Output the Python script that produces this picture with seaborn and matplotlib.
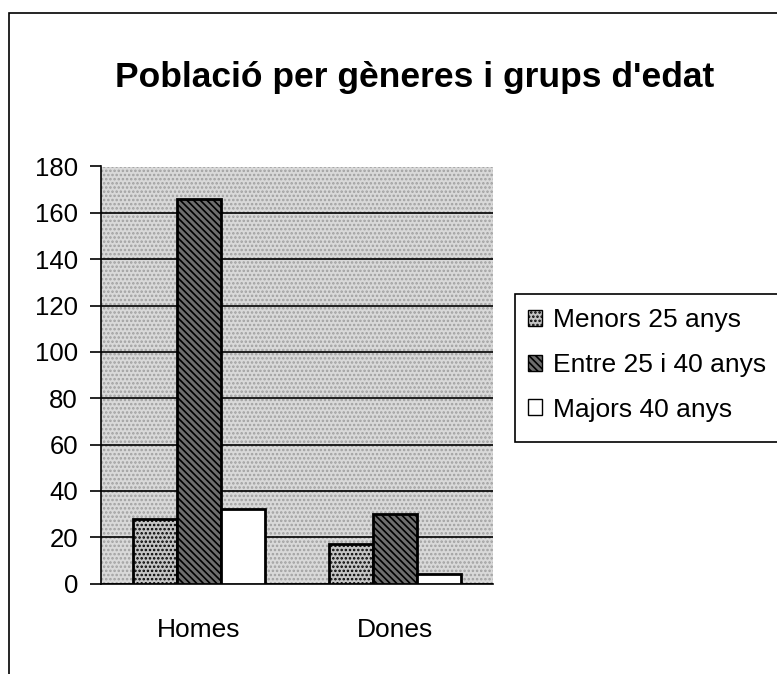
import matplotlib
matplotlib.use("Agg")
import matplotlib.pyplot as plt
import seaborn as sns
import pandas as pd
from matplotlib.patches import Rectangle, Patch

categories = ["Homes", "Dones"]
groups = ["Menors 25 anys", "Entre 25 i 40 anys", "Majors 40 anys"]
menors = [28, 17]
entre = [166, 30]
majors = [32, 4]
yticks = [0, 20, 40, 60, 80, 100, 120, 140, 160, 180]
title = "Població per gèneres i grups d'edat"

rows = []
for g, vals in zip(groups, [menors, entre, majors]):
    for c, v in zip(categories, vals):
        rows.append({"cat": c, "grp": g, "val": v})
df = pd.DataFrame(rows)

sns.set_theme(style="white")
plt.rcParams['font.family'] = ['Liberation Sans', 'DejaVu Sans']
plt.rcParams['hatch.linewidth'] = 1.2
plt.rcParams['text.color'] = 'black'
plt.rcParams['xtick.color'] = 'black'
plt.rcParams['ytick.color'] = 'black'
plt.rcParams['xtick.labelcolor'] = 'black'
plt.rcParams['ytick.labelcolor'] = 'black'

W, H = 777, 674
fig = plt.figure(figsize=(W / 100, H / 100), dpi=100)
ax = fig.add_axes([101 / W, 1 - 583.5 / H, (493 - 101) / W, (583.5 - 166.5) / H])

face = {"Menors 25 anys": "#c4c4c4", "Entre 25 i 40 anys": "#6e6e6e", "Majors 40 anys": "#ffffff"}
hatches = {"Menors 25 anys": "....", "Entre 25 i 40 anys": "\\\\\\\\\\", "Majors 40 anys": ""}

sns.barplot(data=df, x="cat", y="val", hue="grp", order=categories, hue_order=groups,
            palette=face, width=0.67, edgecolor="black", linewidth=2, ax=ax,
            saturation=1, zorder=3, legend=False)

for g, cont in zip(groups, ax.containers):
    for p in cont:
        p.set_hatch(hatches[g])
        p.set_edgecolor("black")
        p.set_zorder(3)

ax.set_facecolor("#d9d9d9")
ax.patch.set_hatch("....")
ax.patch.set_edgecolor("#a0a0a0")
ax.set_ylim(0, 180)
ax.set_xlim(-0.5, 1.5)
ax.set_yticks(yticks)
ax.set_yticklabels([str(t) for t in yticks], fontsize=18.5, color="black")
ax.yaxis.grid(True, color="black", linewidth=1.2, zorder=1)
ax.set_axisbelow(True)
ax.set_xticks([0, 1])
ax.set_xticklabels(categories, fontsize=19, color="black")
ax.tick_params(axis="x", length=0, pad=25)
ax.set_xticks([-0.5, 0.5, 1.5], minor=True)
ax.tick_params(axis="x", which="minor", length=8, width=1.2, color="black", direction="out")
ax.tick_params(axis="y", length=8, width=1.2, color="black", direction="out", left=True, pad=8.5)
ax.set_xlabel("")
ax.set_ylabel("")
for s in ["top", "right"]:
    ax.spines[s].set_visible(False)
for s in ["left", "bottom"]:
    ax.spines[s].set_color("black")
    ax.spines[s].set_linewidth(1.2)

fig.text(415 / W, 1 - 77 / H, title, ha="center", va="center", fontsize=25.5,
         fontweight="bold", color="black")

handles = [Patch(facecolor=face[g], edgecolor="black", hatch=hatches[g]) for g in groups]
leg = fig.legend(handles, groups, loc="center left", bbox_to_anchor=(520 / W, 1 - 365 / H),
                 fontsize=19, frameon=False, handlelength=0.55, handleheight=0.55,
                 handletextpad=0.4, labelspacing=0.78, borderpad=0.3, borderaxespad=0)
for t in leg.get_texts():
    t.set_color("black")

fig.patches.append(Rectangle((515 / W, 1 - 442 / H), 300 / W, 148 / H, transform=fig.transFigure,
                             fill=True, facecolor="white", edgecolor="black", linewidth=1.2, zorder=0))
fig.patches.append(Rectangle((9 / W, -0.1), 1.2, 1.1 - 13 / H, transform=fig.transFigure,
                             fill=False, edgecolor="black", linewidth=1.2))

fig.savefig("out.png", dpi=100)
